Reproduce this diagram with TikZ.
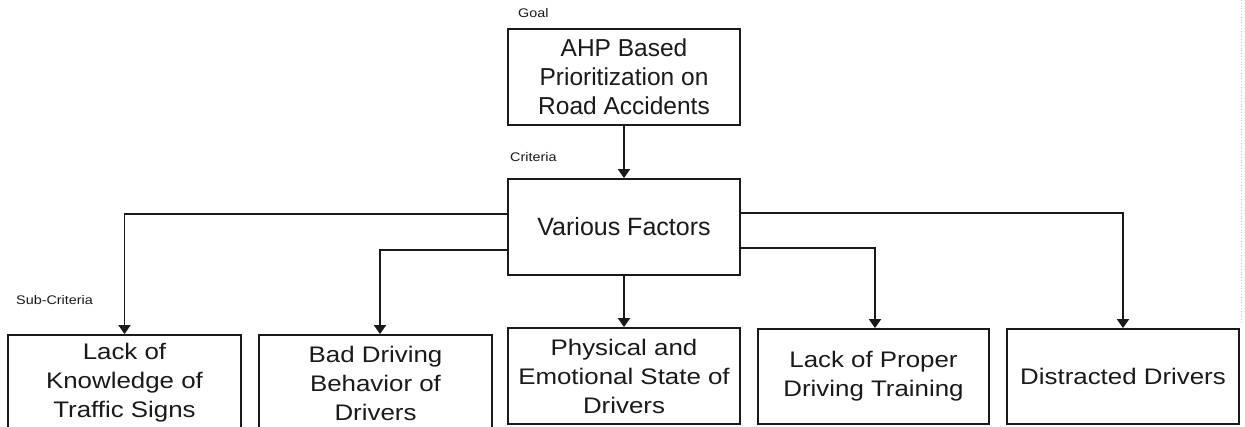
\documentclass[tikz,border=0pt]{standalone}
\usepackage{fontspec}
\setmainfont{Liberation Sans}
\newfontfamily\stretchfont[FakeStretch=1.15]{Liberation Sans}
\usetikzlibrary{arrows.meta}
\definecolor{ink}{HTML}{1A1A1A}
\tikzset{
  box/.style={draw=ink, line width=1.8pt, inner sep=0pt, align=center, text=ink},
  topbox/.style={box, minimum width=232pt, minimum height=96pt, font={\fontsize{24.5}{29}\selectfont}},
  subbox/.style={box, font={\stretchfont\fontsize{22.5}{29}\selectfont}},
  lbl/.style={anchor=base west, inner sep=0pt, text=ink, font={\stretchfont\fontsize{12.5}{14}\selectfont}},
  conn/.style={draw=ink, line width=1.8pt, -{Triangle[width=12pt,length=9pt]}}
}
\begin{document}
\begin{tikzpicture}[x=1pt,y=-1pt]
\clip (0,0) rectangle (1245,427);
\fill[white] (0,0) rectangle (1245,427);
\draw[gray!45, line width=0.8pt, dotted] (1241,0) -- (1241,323);
% labels
\node[lbl] (goal) at (518,18) {Goal};
\node[lbl] (crit) at (510,162) {Criteria};
\node[lbl] (subc) at (16,305) {Sub-Criteria};
% boxes
\node[topbox] (ahp) at (624,77) {AHP Based\\Prioritization on\\Road Accidents};
\node[topbox, font={\fontsize{25}{29}\selectfont}] (vf) at (624,227) {Various Factors};
\node[subbox, minimum width=233pt, minimum height=96pt] (b1) at (124.5,383) {Lack of\\Knowledge of\\Traffic Signs};
\node[subbox, minimum width=233pt, minimum height=96pt] (b2) at (375.5,383) {Bad Driving\\Behavior of\\Drivers};
\node[subbox, minimum width=232pt, minimum height=96pt] (b3) at (624,376) {Physical and\\Emotional State of\\Drivers};
\node[subbox, minimum width=231pt, minimum height=95pt] (b4) at (873.5,376.5) {Lack of Proper\\Driving Training};
\node[subbox, minimum width=232pt, minimum height=95pt] (b5) at (1123,376.5) {Distracted Drivers};
% connectors
\draw[conn] (ahp.south) -- (vf.north);
\draw[conn] (vf.south) -- (b3.north);
\draw[conn] ([yshift=13pt]vf.west) -| (b1.north);
\draw[conn] ([yshift=-23pt]vf.west) -| ([xshift=4.5pt]b2.north);
\draw[conn] ([yshift=14pt]vf.east) -| (b5.north);
\draw[conn] ([yshift=-21pt]vf.east) -| ([xshift=1.5pt]b4.north);
\end{tikzpicture}
\end{document}
